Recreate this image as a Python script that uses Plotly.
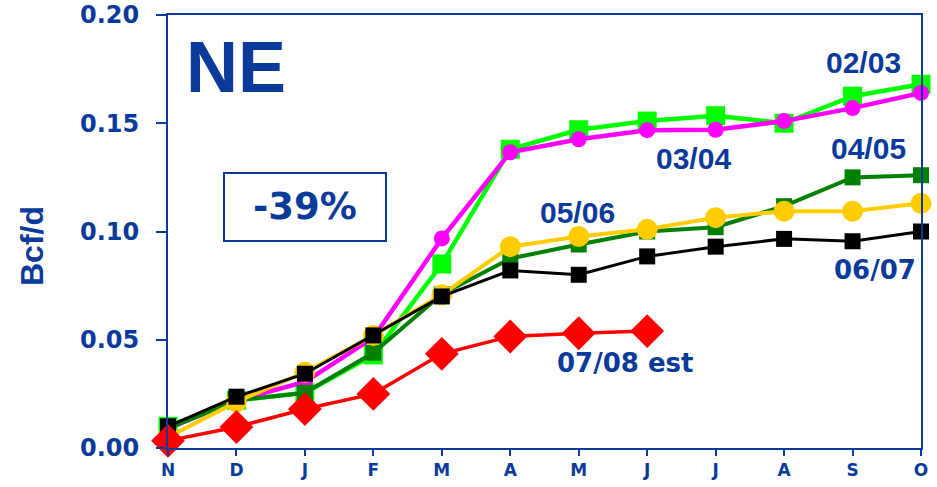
import plotly.graph_objects as go

months = ["N", "D", "J", "F", "M", "A", "M", "J", "J", "A", "S", "O"]
y_ticks = [0.00, 0.05, 0.10, 0.15, 0.20]
y_tick_labels = ["0.00", "0.05", "0.10", "0.15", "0.20"]

s_0203 = [0.010, 0.022, 0.0255, 0.043, 0.085, 0.138, 0.147, 0.151, 0.1535, 0.150, 0.1625, 0.168]
s_0304 = [0.009, 0.022, 0.0305, 0.051, 0.0968, 0.1366, 0.1426, 0.1468, 0.147, 0.151, 0.157, 0.164]
s_0405 = [0.009, 0.022, 0.0255, 0.044, 0.071, 0.0875, 0.094, 0.100, 0.102, 0.1117, 0.125, 0.126]
s_0506 = [0.005, 0.0213, 0.035, 0.052, 0.0708, 0.093, 0.0977, 0.101, 0.1064, 0.1094, 0.1094, 0.113]
s_0607 = [0.010, 0.0237, 0.0343, 0.052, 0.070, 0.082, 0.080, 0.0885, 0.093, 0.0966, 0.0955, 0.100]
s_0708 = [0.0033, 0.0097, 0.018, 0.025, 0.0435, 0.0515, 0.053, 0.054]

BLUE = "#0A3A9A"
x_idx = list(range(len(months)))

fig = go.Figure()

def add(vals, color, symbol, size, width, name):
    fig.add_trace(go.Scatter(
        x=x_idx[:len(vals)], y=vals, mode="lines+markers", name=name,
        line=dict(color=color, width=width),
        marker=dict(color=color, symbol=symbol, size=size, line=dict(width=0)),
        cliponaxis=False, showlegend=False, hoverinfo="skip"))

add(s_0203, "#00FF00", "square", 19, 4.5, "02/03")
add(s_0304, "#FF00FF", "circle", 16, 4.5, "03/04")
add(s_0405, "#008000", "square", 16, 4, "04/05")
add(s_0506, "#FFCC00", "circle", 21, 4, "05/06")
add(s_0607, "#000000", "square", 16, 3, "06/07")
add(s_0708, "#FF0000", "diamond", 26, 3.5, "07/08 est")

W, H = 937, 487
L, R, T, B = 168, 16, 15, 39
pw, ph = W - L - R, H - T - B

def px_x(px):
    return (px - L) / pw

def px_y(py):
    return 1 - (py - T) / ph

labels = [
    ("<b>NE</b>", 184, 67, 72, "Liberation Sans", "left", 0),
    ("<b>-39%</b>", 305, 207, 37, "DejaVu Sans", "center", 0),
    ("<b>02/03</b>", 863, 63, 30, "Liberation Sans", "center", 0),
    ("<b>03/04</b>", 693, 158, 30, "Liberation Sans", "center", 0),
    ("<b>04/05</b>", 868, 148, 30, "Liberation Sans", "center", 0),
    ("<b>05/06</b>", 577, 212, 30, "Liberation Sans", "center", 0),
    ("<b>06/07</b>", 875, 270, 26, "DejaVu Sans", "center", 0),
    ("<b>07/08 est</b>", 625, 363, 26, "DejaVu Sans", "center", 0),
    ("<b>Bcf/d</b>", 32, 246, 32, "Liberation Sans", "center", -90),
]
anns = []
for text, x, y, size, fam, xa, ang in labels:
    anns.append(dict(text=text, x=px_x(x), y=px_y(y), xref="paper", yref="paper",
                     showarrow=False, xanchor=xa, yanchor="middle", textangle=ang,
                     font=dict(size=size, family=fam, color=BLUE)))

fig.update_layout(
    width=W, height=H,
    margin=dict(l=L, r=R, t=T, b=B, autoexpand=False),
    plot_bgcolor="white", paper_bgcolor="white",
    annotations=anns,
    shapes=[dict(type="rect", xref="paper", yref="paper",
                 x0=px_x(224), x1=px_x(386), y0=px_y(241), y1=px_y(173),
                 line=dict(color=BLUE, width=2))],
    xaxis=dict(range=[0, 11], tickmode="array", tickvals=x_idx,
               ticktext=[f"<b>{m}</b>" for m in months], automargin=False,
               showgrid=False, zeroline=False, showline=True, linecolor=BLUE, linewidth=2,
               mirror=True, ticks="outside", ticklen=6, tickcolor=BLUE, tickwidth=2,
               tickfont=dict(family="DejaVu Sans", size=17, color=BLUE)),
    yaxis=dict(range=[0, 0.20], tickmode="array", tickvals=y_ticks,
               ticktext=[f"<b>{t}</b>" for t in y_tick_labels], automargin=False,
               showgrid=False, zeroline=False, showline=True, linecolor=BLUE, linewidth=2,
               mirror=True, ticks="outside", ticklen=10, tickcolor=BLUE, tickwidth=2,
               ticklabelstandoff=12,
               tickfont=dict(family="DejaVu Sans", size=24, color=BLUE)),
)

fig.write_html("out.html", config={"displayModeBar": False},
               post_script="document.body.style.margin='0';")
